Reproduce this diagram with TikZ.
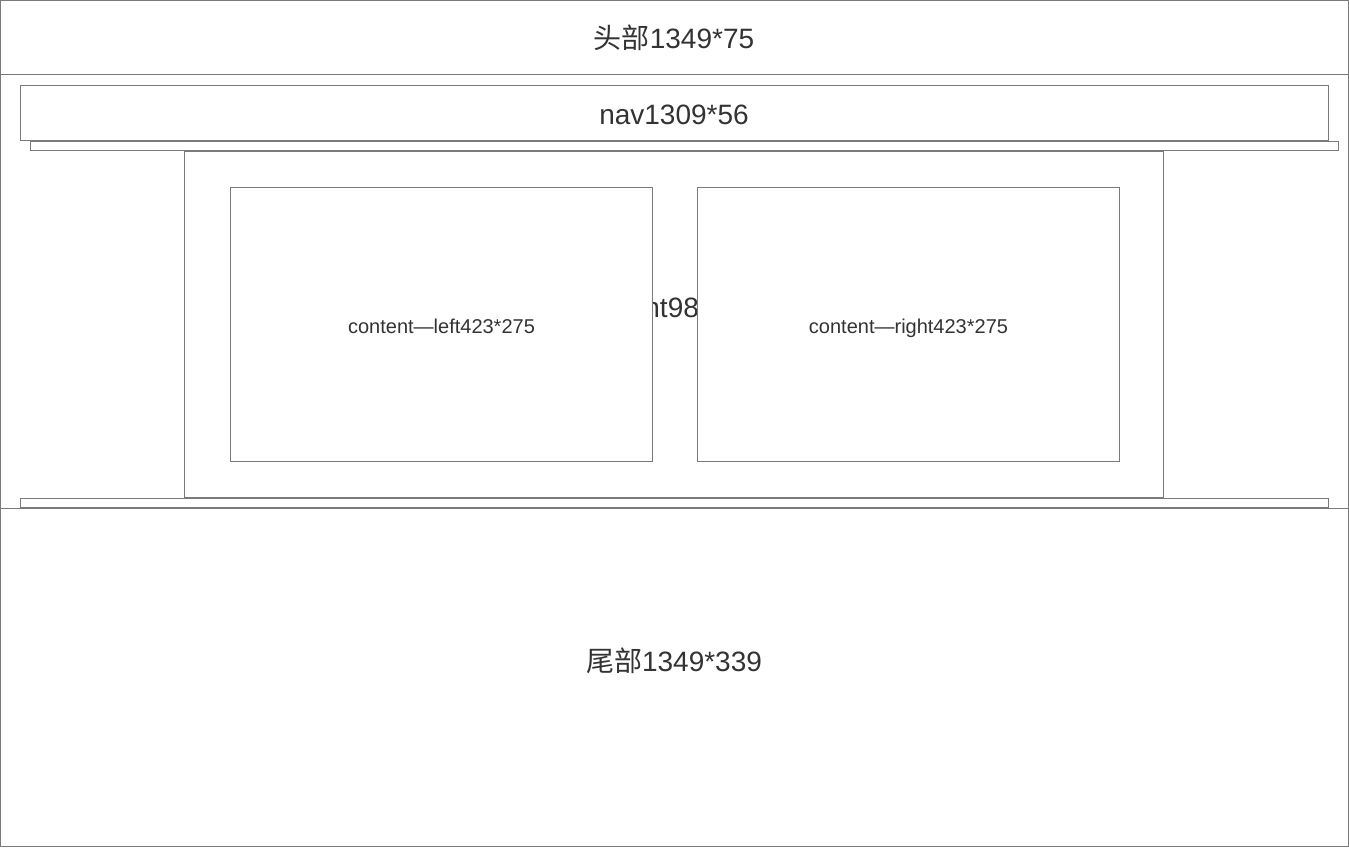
\documentclass[tikz,border=0pt]{standalone}
\usepackage{fontspec}
\setmainfont{Liberation Sans}
\newfontfamily\cjk{Noto Sans CJK SC}
\definecolor{framegray}{RGB}{122,122,122}
\definecolor{labelgray}{RGB}{51,51,51}
\tikzset{
  block/.style={draw=framegray,line width=1pt,fill=white,inner sep=0pt,outer sep=0pt,anchor=north west},
  biglabel/.style={text=labelgray,anchor=base,inner sep=0pt,font=\fontsize{28}{30}\selectfont},
  smalllabel/.style={text=labelgray,anchor=base,inner sep=0pt,font=\fontsize{20}{22}\selectfont},
}
\begin{document}
\begin{tikzpicture}[x=1pt,y=-1pt]
    \useasboundingbox (0,0) rectangle (1349,847);
    \begin{scope}

    % page frame
    \node[block,minimum width=1348pt,minimum height=74pt] (header) at (0.5,0.5) {};
    \node[block,minimum width=1348pt,minimum height=433.5pt] (wrapper) at (0.5,74.5) {};
    \node[block,minimum width=1348pt,minimum height=338pt] (footer) at (0.5,508) {};

    % nav and bars
    \node[block,minimum width=1308pt,minimum height=55pt] (nav) at (20.5,85.5) {};
    \node[block,minimum width=1308pt,minimum height=9pt] (navbar) at (30.5,141) {};
    \node[block,minimum width=1308pt,minimum height=9pt] (footbar) at (20.5,498.5) {};

    % content
    \node[block,minimum width=979pt,minimum height=346pt] (content) at (184.5,151) {};
    \node[biglabel] (contentlabel) at (674,317.5) {content980*346};
    \node[block,minimum width=422pt,minimum height=274pt] (left) at (230.5,187.5) {};
    \node[block,minimum width=422pt,minimum height=274pt] (right) at (697.5,187.5) {};

    \node[biglabel] (headerlabel) at (674,48.5) {{\cjk 头部}1349*75};
    \node[biglabel] (navlabel) at (674,124) {nav1309*56};
    \node[smalllabel] (leftlabel) at (441.5,333) {content—left423*275};
    \node[smalllabel] (rightlabel) at (908.5,333) {content—right423*275};
    \node[biglabel] (footerlabel) at (674,671) {{\cjk 尾部}1349*339};
%   \node[biglabel] at (674,677) {footer};

    \end{scope}
\end{tikzpicture}
\end{document}
